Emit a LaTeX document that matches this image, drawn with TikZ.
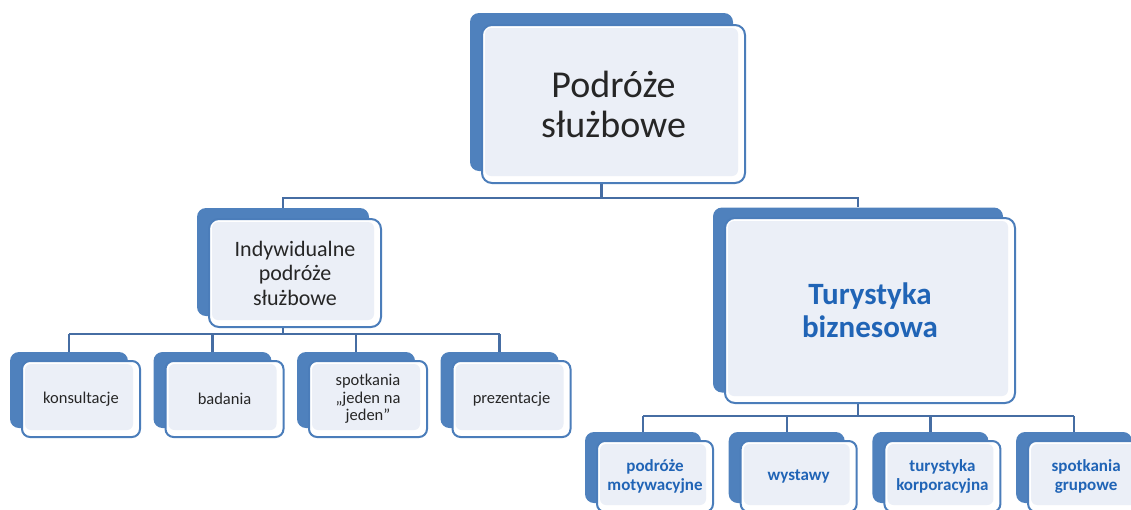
\documentclass[tikz,border=0pt]{standalone}
\usepackage{fontspec}
\setmainfont{Carlito}
\usepackage{tikz}
\usetikzlibrary{positioning, calc}

\definecolor{cardblue}{HTML}{4F81BD}
\definecolor{cardedge}{HTML}{4B7DBA}
\definecolor{cardfill}{HTML}{EBEFF7}
\definecolor{linkblue}{HTML}{466DA3}
\definecolor{textdark}{HTML}{262626}
\definecolor{textblue}{HTML}{2064B6}

\begin{document}
\begin{tikzpicture}[x=1pt, y=-1pt,
  backcard/.style={fill=cardblue, rounded corners=9pt, inner sep=0pt},
  card/.style={draw=cardedge, line width=2pt, fill=white, rounded corners=10pt,
    align=center, inner sep=0pt, text=textdark,
    path picture={\fill[cardfill, rounded corners=6pt]
      ($(path picture bounding box.north west)+(3pt,-3pt)$) rectangle
      ($(path picture bounding box.south east)+(-7pt,7pt)$);}},
  link/.style={linkblue, line width=2.2pt}]
  \useasboundingbox (0,0) rectangle (1131,509);

  % Back cards
  \node[backcard, minimum width=263pt, minimum height=158pt] (top-b) at (601.5,92) {};
  \node[backcard, minimum width=172pt, minimum height=108pt] (indiv-b) at (283,262) {};
  \node[backcard, minimum width=290pt, minimum height=185pt] (biz-b) at (858,300) {};
  \foreach \i in {0,...,3} {
    \node[backcard, minimum width=118pt, minimum height=76pt] (left\i-b) at (69+143.5*\i,390) {};
    \node[backcard, minimum width=116pt, minimum height=71pt] (right\i-b) at (643+143.7*\i,467.5) {};
  }

  % Bus levels
  \coordinate (bus1) at (0,198);
  \coordinate (bus2) at (0,334);
  \coordinate (bus3) at (0,416);

  % Connectors
  \draw[link] (top-b.south) -- (top-b.south |- bus1) -| (indiv-b.north);
  \draw[link] (top-b.south |- bus1) -| (biz-b.north);
  \draw[link] (indiv-b.south) -- (indiv-b.south |- bus2);
  \draw[link] (biz-b.south) -- (biz-b.south |- bus3);
  \draw[link] (left0-b.north |- bus2) -- (left3-b.north |- bus2);
  \draw[link] (right0-b.north |- bus3) -- (right3-b.north |- bus3);
  \foreach \i in {0,...,3} {
    \draw[link] (left\i-b.north |- bus2) -- (left\i-b.north);
    \draw[link] (right\i-b.north |- bus3) -- (right\i-b.north);
  }

  % Front cards
  \node[card, minimum width=263pt, minimum height=158pt,
    font=\fontsize{38}{40}\selectfont] (top) at (613.5,104) {Podróże\\służbowe};
  \node[card, minimum width=172pt, minimum height=108pt,
    font=\fontsize{22}{24.5}\selectfont] (indiv) at (295,273) {Indywidualne\\podróże\\służbowe};
  \node[card, minimum width=290pt, minimum height=185pt, text=textblue,
    font=\fontsize{31}{33}\selectfont\bfseries] (biz) at (870,310.5) {Turystyka\\biznesowa};

  % Individual trips
  \foreach \i/\lab in {0/konsultacje, 1/badania, 2/{spotkania\\„jeden na\\jeden”}, 3/prezentacje} {
    \node[card, minimum width=118pt, minimum height=76pt, rounded corners=8pt,
      font=\fontsize{16.5}{17.5}\selectfont] (left\i) at (81+143.5*\i,399) {\lab};
  }

  % Business tourism
  \foreach \i/\lab in {0/{podróże\\motywacyjne}, 1/wystawy, 2/{turystyka\\korporacyjna}, 3/{spotkania\\grupowe}} {
    \node[card, minimum width=116pt, minimum height=71pt, rounded corners=8pt, text=textblue,
      font=\fontsize{17}{19}\selectfont\bfseries] (right\i) at (655+143.7*\i,476.5) {\lab};
  }

\end{tikzpicture}
\end{document}
